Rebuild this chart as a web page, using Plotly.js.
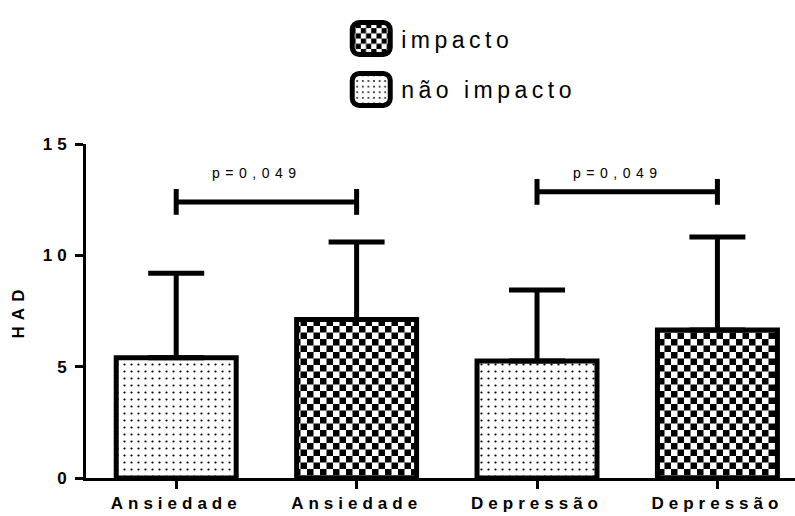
<!DOCTYPE html>
<html><head><meta charset="utf-8">
<script src="https://cdn.plot.ly/plotly-3.0.1.min.js"></script>
<style>
html,body{margin:0;padding:0;background:#fff;}
#chart{width:795px;height:516px;}
.legendtext{letter-spacing:4.5px;}
.xtick text{letter-spacing:5px;}
.ytick text{letter-spacing:5px;}
.ytitle{letter-spacing:6px;}
.annotation-text{letter-spacing:5.5px;}
</style></head><body><div id="chart"></div><script>
// ---- data ----
const categories = ["Ansiedade", "Ansiedade", "Depressão", "Depressão"];
const groups = ["não impacto", "impacto", "não impacto", "impacto"];
const means = [5.4, 7.12, 5.25, 6.65];
const sds = [3.8, 3.48, 3.19, 4.17];
const legendOrder = ["impacto", "não impacto"];
const pLabels = ["p=0,049", "p=0,049"];
const pPairs = [[0, 1], [2, 3]];
const pHeights = [12.4, 12.85];
const pTextY = [13.7, 13.7];
const yTicks = [0, 5, 10, 15];

const CHECK = 13;

const traces = legendOrder.map(g => {
  const idx = groups.map((v, i) => v === g ? i : -1).filter(i => i >= 0);
  const isImp = g === "impacto";
  return {
    type: 'bar', name: g, legendgroup: g,
    x: idx, y: idx.map(i => means[i]),
    width: 0.665,
    marker: {
      color: '#fff', line: {color: '#000', width: 5},
      pattern: {shape: isImp ? '+' : '.', fgcolor: isImp ? '#010101' : '#000000', bgcolor: '#fff',
                size: isImp ? CHECK : 7, solidity: isImp ? 0.5 : 0.08, fillmode: 'replace'}
    },
    error_y: {type: 'data', symmetric: false, array: idx.map(i => sds[i]), arrayminus: idx.map(() => 0),
              color: '#000', thickness: 5, width: 28},
    hoverinfo: 'skip'
  };
});

const shapes = [];
const annotations = [];
pPairs.forEach((pr, k) => {
  const x0 = pr[0], x1 = pr[1], h = pHeights[k];
  const ln = {color: '#000', width: 5};
  shapes.push({type: 'line', xref: 'x', yref: 'y', x0: x0, x1: x1, y0: h, y1: h, line: ln, layer: 'above'});
  shapes.push({type: 'line', xref: 'x', yref: 'y', x0: x0, x1: x0, y0: h - 0.58, y1: h + 0.58, line: ln, layer: 'above'});
  shapes.push({type: 'line', xref: 'x', yref: 'y', x0: x1, x1: x1, y0: h - 0.58, y1: h + 0.58, line: ln, layer: 'above'});
  annotations.push({xref: 'x', yref: 'y', x: (x0 + x1) / 2, y: pTextY[k], text: pLabels[k], showarrow: false,
                    xshift: -9, font: {size: 14, color: '#000'}, xanchor: 'center', yanchor: 'middle'});
});

const layout = {
  width: 795, height: 516,
  margin: {l: 86, r: 0, t: 144, b: 38},
  paper_bgcolor: '#fff', plot_bgcolor: '#fff',
  barmode: 'overlay',
  font: {family: 'Liberation Sans, Arial, sans-serif', color: '#000'},
  showlegend: true,
  legend: {x: 0.36, xanchor: 'left', y: 1.38, yanchor: 'top', traceorder: 'grouped', tracegroupgap: 18,
           itemwidth: 50, font: {size: 23}, bgcolor: 'rgba(0,0,0,0)'},
  xaxis: {range: [-0.5, 3.43], tickvals: [0, 1, 2, 3], ticktext: categories, ticks: 'outside', ticklen: 8,
          tickwidth: 3, tickcolor: '#000', showline: true, linewidth: 3, linecolor: '#000', showgrid: false,
          zeroline: false, tickfont: {size: 17, weight: 'bold'}, fixedrange: true},
  yaxis: {range: [0, 15], tickvals: yTicks, ticks: 'outside', ticklen: 8, tickwidth: 3, tickcolor: '#000',
          showline: true, linewidth: 3, linecolor: '#000', showgrid: false, zeroline: false,
          tickfont: {size: 17, weight: 'bold'},
          title: {text: 'HAD', font: {size: 17, weight: 'bold'}, standoff: 14}, fixedrange: true},
  shapes: shapes, annotations: annotations
};

function roundedRect(w, h, r) {
  const x = -w / 2, y = -h / 2;
  return `M${x + r},${y}H${x + w - r}A${r},${r} 0 0 1 ${x + w},${y + r}V${y + h - r}A${r},${r} 0 0 1 ${x + w - r},${y + h}` +
         `H${x + r}A${r},${r} 0 0 1 ${x},${y + h - r}V${y + r}A${r},${r} 0 0 1 ${x + r},${y}Z`;
}

function isChecker(p) {
  const h = p.outerHTML;
  return h.indexOf('rgb(1, 1, 1)') >= 0 || h.indexOf('#010101') >= 0 || h.indexOf('rgb(1,1,1)') >= 0 ||
         p.getAttribute('data-checker') === '1';
}
function makeChecker(p, s) {
  p.setAttribute('data-checker', '1');
  p.removeAttribute('viewBox');
  p.setAttribute('width', s); p.setAttribute('height', s);
  p.innerHTML = `<rect x="0" y="0" width="${s}" height="${s}" fill="#fff"></rect>` +
    `<rect x="0" y="0" width="${s / 2}" height="${s / 2}" fill="#000"></rect>` +
    `<rect x="${s / 2}" y="${s / 2}" width="${s / 2}" height="${s / 2}" fill="#000"></rect>`;
}

function touchUp() {
  const gd = document.getElementById('chart');
  gd.querySelectorAll('.legend .legendpoints path').forEach(p => {
    p.setAttribute('d', roundedRect(38, 32, 7));
    p.style.strokeWidth = '5px';
    p.style.stroke = '#000';
  });
  gd.querySelectorAll('pattern').forEach(p => {
    if (isChecker(p)) makeChecker(p, CHECK);
  });
}

Plotly.newPlot('chart', traces, layout, {displayModeBar: false, staticPlot: true}).then(gd => {
  touchUp();
  gd.on('plotly_afterplot', touchUp);
});
</script></body></html>
